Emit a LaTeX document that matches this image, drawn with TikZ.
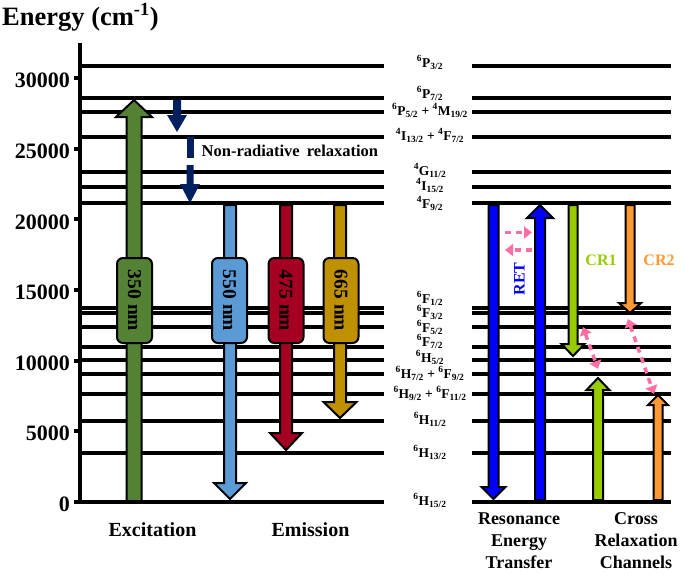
\documentclass[tikz,border=0pt]{standalone}
\usepackage{fontspec}
\setmainfont{Liberation Serif}
\usetikzlibrary{positioning,calc,arrows.meta}

\definecolor{excgreen}{HTML}{548235}
\definecolor{emblue}{HTML}{5B9BD5}
\definecolor{emred}{HTML}{A50021}
\definecolor{emgold}{HTML}{BF9000}
\definecolor{navy}{HTML}{002060}
\definecolor{crgreen}{HTML}{99CC00}
\definecolor{crorange}{HTML}{FF9933}
\definecolor{retpink}{HTML}{FF6FA5}

% spectroscopic term: ^{mult}L_{J}
\newcommand{\lterm}[3]{\textsuperscript{#1}#2\textsubscript{#3}}
% block arrow: [style]{from}{to}{half shaft}{half head}{head length}
\newcommand{\barrow}[6][]{%
  \filldraw[line width=2pt,miter limit=20,#1] let \p1=(#2), \p2=(#3), \n1={#6*sign((\y1)-(\y2))} in
    ({\x1-#4pt},\y1) -- ({\x1-#4pt},{\y2+(\n1)}) -- ({\x1-#5pt},{\y2+(\n1)}) -- (\x2,\y2)
    -- ({\x1+#5pt},{\y2+(\n1)}) -- ({\x1+#4pt},{\y2+(\n1)}) -- ({\x1+#4pt},\y1) -- cycle;}

\begin{document}
\begin{tikzpicture}[x=1pt,y=-1pt,
    lvl/.style={line width=4pt},
    term/.style={font=\fontsize{13.5}{15}\selectfont\bfseries,anchor=base,inner sep=0pt},
    ticklbl/.style={font=\fontsize{22}{24}\selectfont\bfseries,anchor=east,inner sep=0pt},
    wl/.style={draw,line width=2pt,rounded corners=6pt,minimum width=85pt,minimum height=35pt,
      rotate=-90,inner sep=0pt,font=\fontsize{19.5}{20}\selectfont\bfseries},
    bottomlbl/.style={font=\fontsize{20}{22}\selectfont\bfseries,anchor=base,inner sep=0pt},
    bottomlbltwo/.style={font=\fontsize{18}{22}\selectfont\bfseries,align=center,anchor=north,inner sep=0pt},
    chan/.style={font=\fontsize{16}{18}\selectfont\bfseries,anchor=base,inner sep=0pt},
    transfer/.style={retpink,line width=3.5pt,dash pattern=on 6pt off 5pt}]
  \useasboundingbox (0,0) rectangle (685,574);

  % axis
  \node[font=\fontsize{26.5}{28}\selectfont\bfseries,anchor=base west,inner sep=0pt] (title) at (2,25) {Energy (cm\textsuperscript{-1})};
  \draw[lvl] (80,43) -- (80,504);
  \foreach \k/\e in {0/0,5/5000,10/10000,15/15000,20/20000,25/25000,30/30000} {
    \draw[lvl] (74,{501.7-\k*14.12}) -- (80,{501.7-\k*14.12});
    \node[ticklbl] (t\k) at (70,{504.2-\k*14.12}) {\e};
  }

  % levels and terms
  \foreach \y/\t/\b [count=\i] in {
      66/{\lterm{6}{P}{3/2}}/67,
      98.3/{\lterm{6}{P}{7/2}}/98,
      111.7/{\lterm{6}{P}{5/2} + \lterm{4}{M}{19/2}}/115,
      136.7/{\lterm{4}{I}{13/2} + \lterm{4}{F}{7/2}}/140,
      172.3/{\lterm{4}{G}{11/2}}/175,
      186.7/{\lterm{4}{I}{15/2}}/190,
      203.3/{\lterm{4}{F}{9/2}}/208,
      308/{\lterm{6}{F}{1/2}}/303,
      313.3/{\lterm{6}{F}{3/2}}/317,
      326.5/{\lterm{6}{F}{5/2}}/332,
      346.7/{\lterm{6}{F}{7/2}}/346,
      359.5/{\lterm{6}{H}{5/2}}/362,
      374.3/{\lterm{6}{H}{7/2} + \lterm{6}{F}{9/2}}/378,
      394.3/{\lterm{6}{H}{9/2} + \lterm{6}{F}{11/2}}/398,
      420.7/{\lterm{6}{H}{11/2}}/424,
      453/{\lterm{6}{H}{13/2}}/457,
      502/{\lterm{6}{H}{15/2}}/505} {
    \draw[lvl] (80,\y) -- (384,\y);
    \draw[lvl] (472,\y) -- (671,\y);
    \node[term] (s\i) at (430,\b) {\t};
  }

  % arrow ends
  \foreach \n/\x/\a/\b in {ex/134/501/100, em550/230/205/499, em475/286/205/450, em665/340/205/418,
      nra/177/100/132, nrb/190/165/203, retd/493.5/205/499, retu/540/500/205,
      cr1d/573/205/356, cr1u/598/500/378, cr2d/630/205/313, cr2u/658/500/395} {
    \coordinate (\n-a) at (\x,\a);
    \coordinate (\n-b) at (\x,\b);
  }

  % excitation and emission
  \barrow[fill=excgreen]{ex-a}{ex-b}{7.5}{18}{17}
  \barrow[fill=emblue]{em550-a}{em550-b}{6}{16}{16}
  \barrow[fill=emred]{em475-a}{em475-b}{6}{16}{17}
  \barrow[fill=emgold]{em665-a}{em665-b}{6}{16.5}{16}
  \barrow[fill=navy,draw=none]{nra-a}{nra-b}{4}{10}{17}
  \fill[navy] (187,137) rectangle (193.5,158);
  \barrow[fill=navy,draw=none]{nrb-a}{nrb-b}{3.5}{10}{19}
  \node[font=\fontsize{16.5}{18}\selectfont\bfseries,anchor=base west,inner sep=0pt] (nr) at (201.5,156.5) {Non-radiative\hspace{3pt} relaxation};

  \node[wl,fill=excgreen] (w350) at (134.5,300.5) {350 nm};
  \node[wl,fill=emblue] (w550) at (229.5,300.5) {550 nm};
  \node[wl,fill=emred] (w475) at (286,300.5) {475 nm};
  \node[wl,fill=emgold] (w665) at (341,300.5) {665 nm};

  % resonance energy transfer and cross relaxation
  \barrow[fill=blue]{retd-a}{retd-b}{5}{12}{12}
  \barrow[fill=blue]{retu-a}{retu-b}{5}{13}{13}
  \barrow[fill=crgreen]{cr1d-a}{cr1d-b}{4.5}{11.5}{12}
  \barrow[fill=crgreen]{cr1u-a}{cr1u-b}{5}{11.5}{12}
  \barrow[fill=crorange]{cr2d-a}{cr2d-b}{4.5}{11}{10}
  \barrow[fill=crorange]{cr2u-a}{cr2u-b}{4.5}{10}{10}

  \coordinate (p1) at (505,232.5);
  \coordinate (p2) at (532,232.5);
  \coordinate (p3) at (532,250);
  \coordinate (p4) at (505,250);
  \coordinate (p5) at (583,327);
  \coordinate (p6) at (598,369);
  \coordinate (p7) at (628,319);
  \coordinate (p8) at (654,394);
  \draw[transfer,-{Triangle[length=8pt,width=12pt]}] (p1) -- (p2);
  \draw[transfer,-{Triangle[length=8pt,width=12pt]}] (p3) -- (p4);
  \draw[transfer,{Triangle[length=8pt,width=12pt]}-{Triangle[length=8pt,width=12pt]}] (p5) -- (p6);
  \draw[transfer,{Triangle[length=8pt,width=12pt]}-{Triangle[length=8pt,width=12pt]}] (p7) -- (p8);

  \node[chan,text=blue,rotate=90,anchor=center] (retl) at (519.5,279) {RET};
  \node[chan,text=crgreen] (cr1) at (601,265) {CR1};
  \node[chan,text=crorange] (cr2) at (659,265) {CR2};

  % captions
  \node[bottomlbl] (excit) at (152.5,536.5) {Excitation};
  \node[bottomlbl] (emiss) at (310.5,536.5) {Emission};
  \node[bottomlbltwo] (ret) at (519,512.5) {Resonance\\Energy\\Transfer};
  \node[bottomlbltwo] (cross) at (636,512.5) {Cross\\Relaxation\\Channels};
\end{tikzpicture}
\end{document}
